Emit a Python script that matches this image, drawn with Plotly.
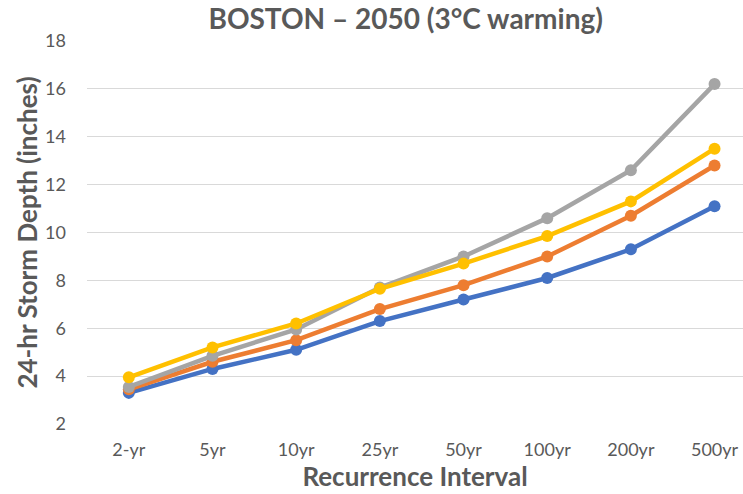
import plotly.graph_objects as go

# Recurrence intervals along the x axis
intervals = ["2-yr", "5yr", "10yr", "25yr", "50yr", "100yr", "200yr", "500yr"]

# 24-hr storm depth (inches) for each projection
depth_blue = [3.3, 4.3, 5.1, 6.3, 7.2, 8.1, 9.3, 11.1]
depth_orange = [3.45, 4.6, 5.5, 6.8, 7.8, 9.0, 10.7, 12.8]
depth_gray = [3.55, 4.85, 5.95, 7.7, 9.0, 10.6, 12.6, 16.2]
depth_yellow = [3.95, 5.2, 6.2, 7.65, 8.7, 9.85, 11.3, 13.5]

y_ticks = [2, 4, 6, 8, 10, 12, 14, 16, 18]

series = [
    ("Projection 1", depth_blue, "#4472C4"),
    ("Projection 2", depth_orange, "#ED7D31"),
    ("Projection 3", depth_gray, "#A5A5A5"),
    ("Projection 4", depth_yellow, "#FFC000"),
]

fig = go.Figure()
for name, vals, color in series:
    fig.add_trace(go.Scatter(
        x=intervals, y=vals, name=name, mode="lines+markers",
        line=dict(color=color, width=4.5),
        marker=dict(color=color, size=12),
    ))

text_color = "#595959"
fig.update_layout(
    width=743, height=494,
    margin=dict(l=87, r=0, t=41, b=70),
    paper_bgcolor="white", plot_bgcolor="white",
    showlegend=False,
    font=dict(family="Lato", color=text_color, size=18),
    title=dict(
        text="<b>BOSTON – 2050 (3°C warming)</b>",
        x=0.546, xanchor="center", y=0.961, yanchor="middle",
        font=dict(family="Lato", size=28, color=text_color),
    ),
    xaxis=dict(
        type="category", range=[-0.5, 7.34],
        showgrid=False, zeroline=False, showline=False,
        ticks="", ticklabelstandoff=13,
        tickfont=dict(size=18, color=text_color),
        title=dict(text="<b>Recurrence Interval</b>", standoff=0,
                   font=dict(size=26, color=text_color)),
    ),
    yaxis=dict(
        range=[2, 18], tickvals=y_ticks, showgrid=True,
        gridcolor="#D9D9D9", gridwidth=1, zeroline=False, showline=False,
        ticks="", ticklabelstandoff=20,
        tickfont=dict(size=18, color=text_color),
        title=dict(text="<b>24-hr Storm Depth (inches)</b>", standoff=0,
                   font=dict(size=26, color=text_color)),
    ),
)

fig.write_html("out.html")
